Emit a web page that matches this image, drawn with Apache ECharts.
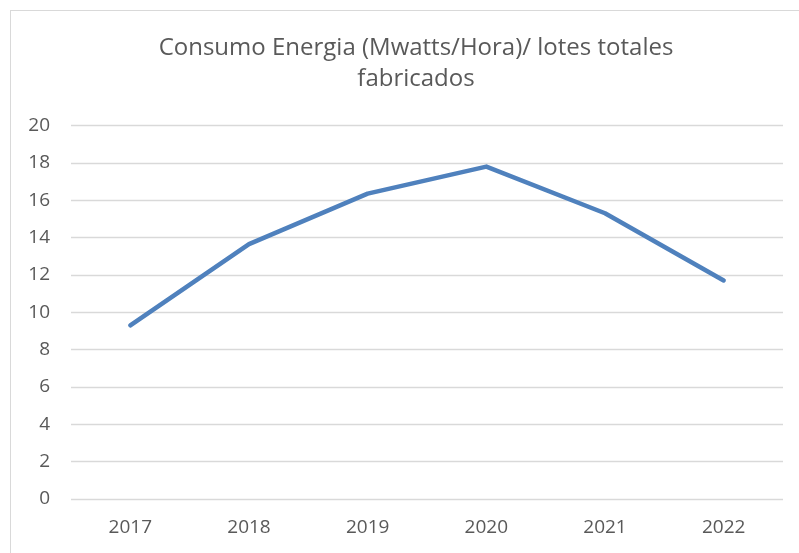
<!DOCTYPE html>
<html lang="es">
<head>
<meta charset="UTF-8">
<title>Consumo Energia</title>
<script src="https://cdn.jsdelivr.net/npm/echarts@6/dist/echarts.min.js"></script>
</head>
<body style="margin:0;overflow:hidden;background:#fff;">
<div id="main" style="position:absolute;left:10px;top:10px;width:800px;height:560px;border:1px solid #d9d9d9;box-sizing:border-box;"></div>
<script type="text/javascript">
    // datos
    var years = ['2017', '2018', '2019', '2020', '2021', '2022'];
    var consumo = [9.3, 13.65, 16.35, 17.8, 15.3, 11.7];
    var titulo = 'Consumo Energia (Mwatts/Hora)/ lotes totales\nfabricados';

    var myChart = echarts.init(document.getElementById('main'));
    var option = {
        animation: false,
        title: {
            text: titulo,
            left: 400,
            top: 17,
            textAlign: 'center',
            textStyle: {
                fontFamily: 'Open Sans',
                fontSize: 24,
                fontWeight: 'normal',
                color: '#595959',
                lineHeight: 31
            }
        },
        grid: {
            left: 60,
            top: 114.5,
            width: 712,
            height: 373.5
        },
        xAxis: {
            type: 'category',
            data: years,
            boundaryGap: true,
            axisLine: {show: false},
            axisTick: {show: false},
            axisLabel: {
                margin: 19,
                fontFamily: 'Open Sans',
                fontSize: 19,
                color: '#595959'
            }
        },
        yAxis: {
            type: 'value',
            min: 0,
            max: 20,
            interval: 2,
            axisLine: {show: false},
            axisTick: {show: false},
            axisLabel: {
                margin: 21,
                fontFamily: 'Open Sans',
                fontSize: 19,
                color: '#595959'
            },
            splitLine: {
                lineStyle: {color: '#d9d9d9', width: 1.3}
            }
        },
        series: [{
            type: 'line',
            data: consumo,
            symbol: 'none',
            lineStyle: {color: '#4f81bd', width: 4.5, cap: 'round', join: 'round'}
        }]
    };
    myChart.setOption(option);
</script>
</body>
</html>
